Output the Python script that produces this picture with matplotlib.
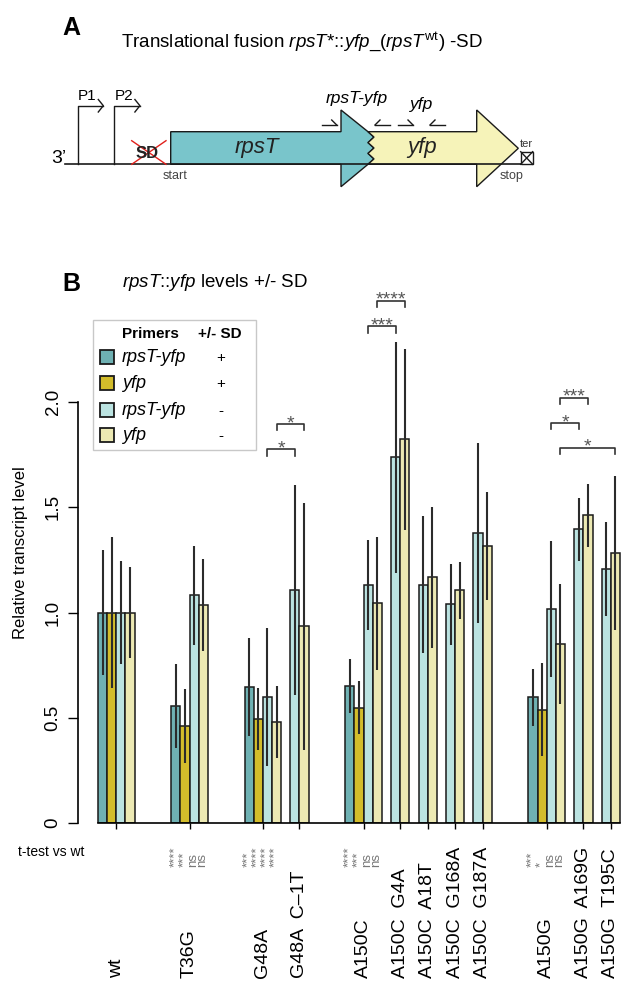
import numpy as np
import matplotlib.pyplot as plt
from matplotlib.patches import Polygon, Rectangle
from matplotlib.font_manager import FontProperties
from matplotlib.transforms import blended_transform_factory

plt.rcParams['font.family'] = ['Liberation Sans', 'DejaVu Sans']
plt.rcParams['mathtext.fontset'] = 'custom'
plt.rcParams['mathtext.rm'] = 'Liberation Sans'
plt.rcParams['mathtext.it'] = 'Liberation Sans:italic'
plt.rcParams['mathtext.bf'] = 'Liberation Sans:bold'

nan = np.nan

# samples along x, grouped in clusters
samples = ["wt", "T36G", "G48A", "G48A  C\u20131T", "A150C", "A150C  G4A", "A150C  A18T",
           "A150C  G168A", "A150C  G187A", "A150G", "A150G  A169G", "A150G  T195C"]
cluster = [0, 1, 2, 2, 3, 3, 3, 3, 3, 4, 4, 4]

# relative transcript levels (+SD fusions have all four bars, -SD only the last two)
rpst_yfp_sd = [1.0, 0.554, 0.645, nan, 0.650, nan, nan, nan, nan, 0.597, nan, nan]
yfp_sd = [1.0, 0.459, 0.493, nan, 0.548, nan, nan, nan, nan, 0.539, nan, nan]
rpst_yfp_nosd = [1.0, 1.081, 0.597, 1.105, 1.132, 1.737, 1.132, 1.039, 1.377, 1.018, 1.396, 1.205]
yfp_nosd = [1.0, 1.034, 0.478, 0.934, 1.043, 1.823, 1.168, 1.106, 1.315, 0.850, 1.462, 1.282]

err_rpst_yfp_sd = [0.295, 0.200, 0.233, nan, 0.128, nan, nan, nan, nan, 0.134, nan, nan]
err_yfp_sd = [0.360, 0.176, 0.147, nan, 0.127, nan, nan, nan, nan, 0.219, nan, nan]
err_rpst_yfp_nosd = [0.247, 0.234, 0.328, 0.499, 0.213, 0.550, 0.325, 0.192, 0.426, 0.324, 0.150, 0.223]
err_yfp_nosd = [0.216, 0.219, 0.171, 0.585, 0.317, 0.430, 0.335, 0.135, 0.257, 0.284, 0.150, 0.366]

series_names = ["rpsT-yfp", "yfp", "rpsT-yfp", "yfp"]
series_sd = ["+", "+", "-", "-"]
colors = ['#6fb1b3', '#d3bd2b', '#bbe3e1', '#ece9b3']

# t-test vs wt
ttest_samples = ["T36G", "G48A", "A150C", "A150G"]
ttest_labels = [["****", "***", "ns", "ns"], ["***", "****", "****", "****"],
                ["****", "***", "ns", "ns"], ["***", "*", "ns", "ns"]]

# pairwise comparisons
br_from = ["G48A", "G48A", "A150C", "A150C", "A150G", "A150G", "A150G"]
br_to = ["G48A  C\u20131T", "G48A  C\u20131T", "A150C  G4A", "A150C  G4A", "A150G  A169G", "A150G  A169G", "A150G  T195C"]
br_bar = [2, 3, 2, 3, 2, 3, 3]
br_y = [1.775, 1.895, 2.36, 2.48, 1.90, 2.02, 1.783]
br_label = ["*", "*", "***", "****", "*", "***", "*"]

values = [rpst_yfp_sd, yfp_sd, rpst_yfp_nosd, yfp_nosd]
errors = [err_rpst_yfp_sd, err_yfp_sd, err_rpst_yfp_nosd, err_yfp_nosd]

# bar layout: gap 4 between clusters, 1 inside a cluster
left = []
nbars = []
pos = 0.0
for i in range(len(samples)):
    if i > 0:
        pos += 4 if cluster[i] != cluster[i - 1] else 1
    nb = 2 if np.isnan(rpst_yfp_sd[i]) else 4
    left.append(pos)
    nbars.append(nb)
    pos += nb
end = pos
left = np.array(left)
nbars = np.array(nbars)
centers = left + nbars / 2


def bar_x(i, k):
    return left[i] + (k if nbars[i] == 4 else k - 2)


fig = plt.figure(figsize=(6.28, 9.88), dpi=100)
ax = fig.add_axes([78.3 / 628, 1 - 823 / 988, (628 - 78.3) / 628, 2.6 * 210.5 / 988])
ov = fig.add_axes([0, 0, 1, 1])
ov.set_xlim(0, 628)
ov.set_ylim(988, 0)
ov.axis('off')
ov.patch.set_visible(False)

ax.set_xlim(-2.15, -2.15 + (628 - 78.3) / 9.158)
ax.set_ylim(0, 2.6)

for k in range(4):
    xs, vs, es = [], [], []
    for i in range(len(samples)):
        if not np.isnan(values[k][i]):
            xs.append(bar_x(i, k))
            vs.append(values[k][i])
            es.append(errors[k][i])
    xs = np.array(xs)
    ax.bar(xs, vs, width=1, align='edge', color=colors[k], edgecolor='#1a1a1a', linewidth=1.1, zorder=2)
    ax.errorbar(xs + 0.5, vs, yerr=es, fmt='none', ecolor='#2b2b2b', elinewidth=1.5, capsize=0, zorder=3)

# brackets
for a, b, k, y, lab in zip(br_from, br_to, br_bar, br_y, br_label):
    xa = bar_x(samples.index(a), k) + 0.5
    xb = bar_x(samples.index(b), k) + 0.5
    ax.plot([xa, xa, xb, xb], [y - 0.03, y, y, y - 0.03], color='#333333', lw=1.2, clip_on=False)
    ax.text((xa + xb) / 2, y - 0.019, lab, ha='center', va='baseline', fontsize=14, color='#555555')

for s in ['top', 'right']:
    ax.spines[s].set_visible(False)
ax.spines['left'].set_bounds(0, 2)
ax.spines['bottom'].set_bounds(0, end)
ax.spines['left'].set_linewidth(1.2)
ax.spines['bottom'].set_linewidth(1.2)
ax.set_yticks([0, 0.5, 1, 1.5, 2])
ax.set_yticklabels(['0', '0.5', '1.0', '1.5', '2.0'])
ax.tick_params(axis='y', length=7, width=1, labelsize=13.5, pad=5, labelrotation=90)
for t in ax.get_yticklabels():
    t.set_va('center')
ax.set_xticks(centers)
ax.set_xticklabels([])
ax.tick_params(axis='x', length=4.5, width=1)
ov.text(21, 553, "Relative transcript level", rotation=90, ha='center', va='center', fontsize=12)

# sample names under the axis
tr = blended_transform_factory(ax.transData, ov.transData)
for i, name in enumerate(samples):
    ax.text(centers[i], 978, name, transform=tr, rotation=90, ha='center', va='bottom', fontsize=14)

# t-test stars: one rotated multi-line text per sample, one line per bar
star_size = 9.5
renderer = fig.canvas.get_renderer()
_, lp_h, lp_d = renderer.get_text_width_height_descent("lp", FontProperties(size=star_size), ismath=False)
pitch = ax.transData.transform((1, 0))[0] - ax.transData.transform((0, 0))[0]
spacing = (pitch - lp_d) / (lp_h - lp_d)
for s, labs in zip(ttest_samples, ttest_labels):
    i = samples.index(s)
    ax.text(centers[i] - 0.1, 867, "\n".join(labs), transform=tr, rotation=90, ha='center', va='bottom',
            multialignment='left', linespacing=spacing, fontsize=star_size, color='#777777')
ov.text(18, 852, "t-test vs wt", ha='left', va='center', fontsize=10)

# panel B title and legend
ov.text(62, 284, "B", fontsize=18, fontweight='bold', ha='left', va='center')
ov.text(122, 282, r"$\it{rpsT}$::$\it{yfp}$ levels +/- SD", fontsize=13.5, ha='left', va='center')
ov.add_patch(Rectangle((93, 320), 163, 130, facecolor='white', edgecolor='#c8c8c8', lw=1, zorder=4))
ov.text(122, 334, "Primers", fontweight='bold', fontsize=11, ha='left', va='center', zorder=5)
ov.text(198, 334, "+/- SD", fontweight='bold', fontsize=11, ha='left', va='center', zorder=5)
for k, yy in enumerate([357, 383, 410, 435]):
    ov.add_patch(Rectangle((100, yy - 7), 14, 14, facecolor=colors[k], edgecolor='#1a1a1a', lw=1.3, zorder=5))
    ov.text(122, yy, series_names[k], style='italic', fontsize=13, ha='left', va='center', zorder=5)
    ov.text(221, yy + 1, series_sd[k], fontsize=11, ha='center', va='center', zorder=5)

# panel A: construct diagram
ov.text(62, 28, "A", fontsize=18, fontweight='bold', ha='left', va='center')
ov.text(121, 42, r"Translational fusion $\it{rpsT}$*::$\it{yfp}$_($\it{rpsT}^{\rm{wt}}$) -SD",
        fontsize=13.5, ha='left', va='center')
ov.plot([65, 521], [164.3, 164.3], color='#1a1a1a', lw=1.2)
ov.text(66, 163, "3\u2019", fontsize=14, ha='right', va='baseline')
for px, lab in [(77.7, "P1"), (114.3, "P2")]:
    ov.plot([px, px, px + 25.6], [164.3, 105.7, 105.7], color='#1a1a1a', lw=1)
    ov.plot([px + 20.6, px + 25.6, px + 20.6], [99.5, 105.7, 112], color='#1a1a1a', lw=1)
    ov.text(px, 103, lab, fontsize=11, ha='left', va='bottom')
ov.text(147.3, 154, "SD", fontsize=12, fontweight='bold', ha='center', va='center', color='#222222')
ov.plot([131.7, 166], [140.7, 164.3], color='#e0201b', lw=1)
ov.plot([131.7, 166], [164.3, 140.7], color='#e0201b', lw=1)

zig = [(368, 131.7), (374, 137.1), (368, 142.6), (374, 148), (368, 153.4), (374, 158.9), (368, 164.3)]
teal = [(170.7, 131.7), (341, 131.7), (341, 110)] + zig + [(341, 186.7), (341, 164.3), (170.7, 164.3)]
yel = zig + [(476.7, 164.3), (476.7, 186.7), (518.3, 148.3), (476.7, 110), (476.7, 131.7)]
ov.add_patch(Polygon(teal, closed=True, facecolor='#79c5cb', edgecolor='#1a1a1a', lw=1))
ov.add_patch(Polygon(yel, closed=True, facecolor='#f6f3b9', edgecolor='#1a1a1a', lw=1))
ov.text(256.7, 148, "rpsT", style='italic', fontsize=16, ha='center', va='center', color='#222222')
ov.text(421.7, 148, "yfp", style='italic', fontsize=16, ha='center', va='center', color='#222222')
ov.text(175, 176, "start", fontsize=9, ha='center', va='center', color='#444444')
ov.text(511.7, 176, "stop", fontsize=9, ha='center', va='center', color='#444444')
ov.add_patch(Rectangle((520.7, 151.7), 12, 12.6, facecolor='white', edgecolor='#1a1a1a', lw=1))
ov.plot([520.7, 532.7], [151.7, 164.3], color='#1a1a1a', lw=1)
ov.plot([520.7, 532.7], [164.3, 151.7], color='#1a1a1a', lw=1)
ov.text(526.7, 144, "ter", fontsize=8, ha='center', va='center', color='#333333')

# primers
for x1, x2, fwd in [(321.7, 336.7, True), (375, 390, False), (398, 413, True), (430, 445, False)]:
    ov.plot([x1, x2], [125, 125], color='#1a1a1a', lw=1)
    if fwd:
        ov.plot([x2, x2 - 5], [125, 120], color='#1a1a1a', lw=1)
    else:
        ov.plot([x1, x1 + 5], [125, 120], color='#1a1a1a', lw=1)
ov.text(357, 98, "rpsT-yfp", style='italic', fontsize=12.5, ha='center', va='center')
ov.text(421.7, 104, "yfp", style='italic', fontsize=12.5, ha='center', va='center')

fig.savefig('out.png', dpi=100)
